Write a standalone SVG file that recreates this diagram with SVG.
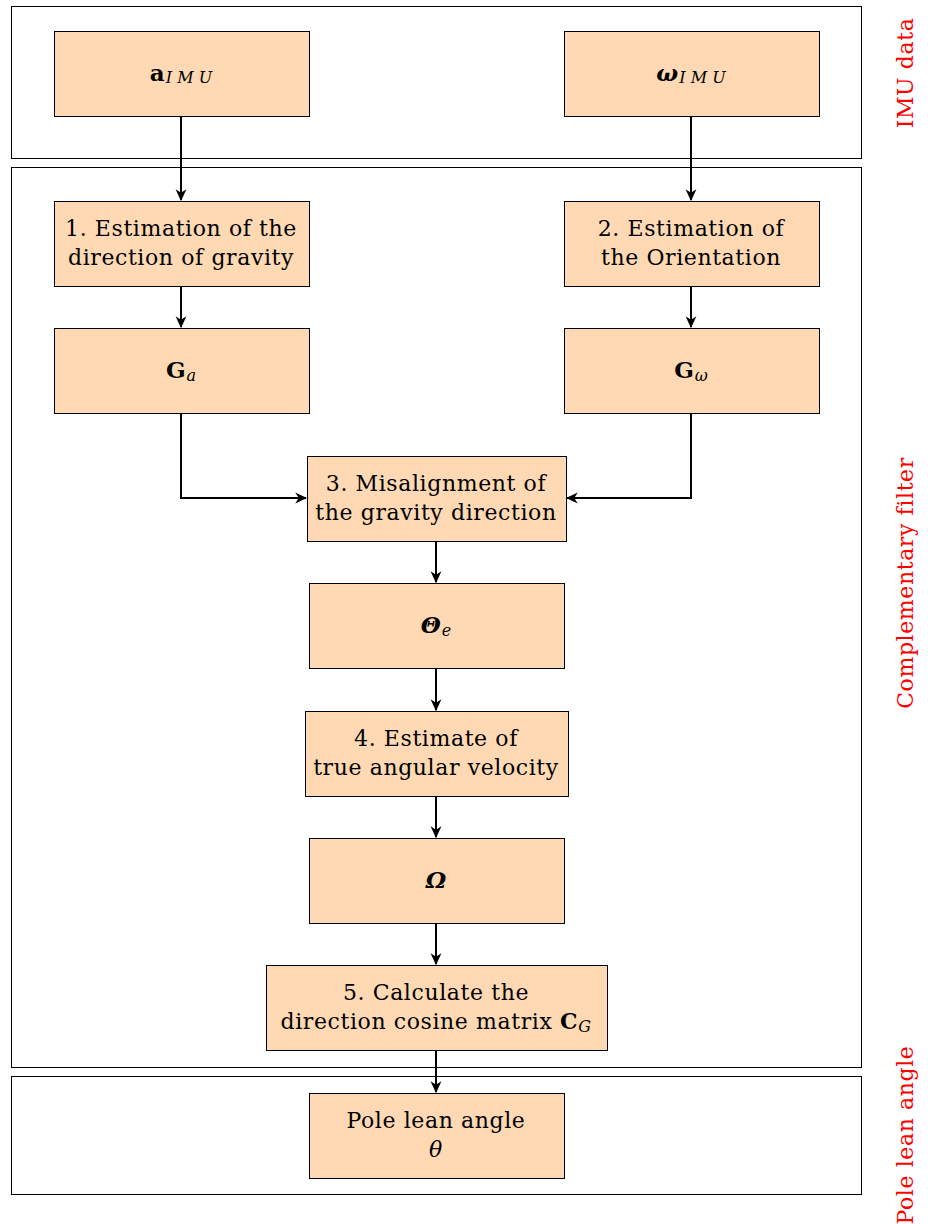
<svg xmlns="http://www.w3.org/2000/svg" width="928" height="1224" viewBox="0 0 928 1224">
<defs>
<style>
.frame{fill:none;stroke:#000;stroke-width:1}
.node{fill:#FFD9B3;stroke:#000;stroke-width:1}
.t{font-family:"DejaVu Serif","Liberation Serif",serif;font-size:22px;letter-spacing:0.6px;fill:#000;text-anchor:middle}
.m{font-family:"DejaVu Serif","Liberation Serif",serif;font-size:23px;fill:#000;text-anchor:middle}
.side{font-family:"DejaVu Serif","Liberation Serif",serif;font-size:22px;letter-spacing:0.6px;fill:#ff0000;text-anchor:middle}
.edge{fill:none;stroke:#000;stroke-width:2}
</style>
<marker id="arr" viewBox="0 0 10 10" refX="9" refY="5" markerWidth="12" markerHeight="12" markerUnits="userSpaceOnUse" orient="auto">
<path d="M0,0.5 L10,5 L0,9.5 L3,5 Z" fill="#000"/>
</marker>
</defs>
<g id="frames">
<rect class="frame" x="11.5" y="6.5" width="850" height="152"/>
<rect class="frame" x="11.5" y="167.5" width="850" height="900"/>
<rect class="frame" x="11.5" y="1076.5" width="850" height="118"/>
<text class="side" transform="translate(913,73) rotate(-90)">IMU data</text>
<text class="side" transform="translate(913,583) rotate(-90)">Complementary filter</text>
<text class="side" transform="translate(913,1135) rotate(-90)">Pole lean angle</text>
</g>
<g id="connectors">
<path class="edge" d="M181,116 V200" marker-end="url(#arr)"/>
<path class="edge" d="M691,116 V200" marker-end="url(#arr)"/>
<path class="edge" d="M181,286 V327" marker-end="url(#arr)"/>
<path class="edge" d="M691,286 V327" marker-end="url(#arr)"/>
<path class="edge" d="M181,413 V498 H306" marker-end="url(#arr)"/>
<path class="edge" d="M691,413 V498 H567" marker-end="url(#arr)"/>
<path class="edge" d="M436,541 V582" marker-end="url(#arr)"/>
<path class="edge" d="M436,668 V710" marker-end="url(#arr)"/>
<path class="edge" d="M436,796 V837" marker-end="url(#arr)"/>
<path class="edge" d="M436,923 V964" marker-end="url(#arr)"/>
<path class="edge" d="M436,1050 V1092" marker-end="url(#arr)"/>
</g>
<g id="n_aIMU">
<rect class="node" x="54.5" y="31.5" width="255" height="85"/>
<text class="m" x="181" y="81"><tspan font-weight="bold">a</tspan><tspan font-style="italic" font-size="16" dx="1" dy="2">I M U</tspan></text>
</g>
<g id="n_wIMU">
<rect class="node" x="564.5" y="31.5" width="255" height="85"/>
<text class="m" x="691" y="81"><tspan font-weight="bold" font-style="italic">ω</tspan><tspan font-style="italic" font-size="16" dx="1" dy="2">I M U</tspan></text>
</g>
<g id="n1">
<rect class="node" x="54.5" y="201.5" width="255" height="85"/>
<text class="t" x="181" y="236">1. Estimation of the</text>
<text class="t" x="181" y="265">direction of gravity</text>
</g>
<g id="n2">
<rect class="node" x="564.5" y="201.5" width="255" height="85"/>
<text class="t" x="691" y="236">2. Estimation of</text>
<text class="t" x="691" y="265">the Orientation</text>
</g>
<g id="n_Ga">
<rect class="node" x="54.5" y="328.5" width="255" height="85"/>
<text class="m" x="181" y="378"><tspan font-weight="bold">G</tspan><tspan font-style="italic" font-size="16" dx="1" dy="3">a</tspan></text>
</g>
<g id="n_Gw">
<rect class="node" x="564.5" y="328.5" width="255" height="85"/>
<text class="m" x="691" y="378"><tspan font-weight="bold">G</tspan><tspan font-style="italic" font-size="16" dx="1" dy="3">ω</tspan></text>
</g>
<g id="n3">
<rect class="node" x="307.5" y="456.5" width="259" height="85"/>
<text class="t" x="436" y="491">3. Misalignment of</text>
<text class="t" x="436" y="520">the gravity direction</text>
</g>
<g id="n_Theta">
<rect class="node" x="309.5" y="583.5" width="255" height="85"/>
<text class="m" x="436" y="633"><tspan font-weight="bold" font-style="italic">Θ</tspan><tspan font-style="italic" font-size="16" dx="1" dy="3">e</tspan></text>
</g>
<g id="n4">
<rect class="node" x="305.5" y="711.5" width="263" height="85"/>
<text class="t" x="436" y="746">4. Estimate of</text>
<text class="t" x="436" y="775">true angular velocity</text>
</g>
<g id="n_Omega">
<rect class="node" x="309.5" y="838.5" width="255" height="85"/>
<text class="m" x="436" y="888" font-weight="bold" font-style="italic">Ω</text>
</g>
<g id="n5">
<rect class="node" x="266.5" y="965.5" width="341" height="85"/>
<text class="t" x="436" y="1000">5. Calculate the</text>
<text class="t" x="436" y="1029">direction cosine matrix <tspan font-weight="bold">C</tspan><tspan font-style="italic" font-size="16" dy="3">G</tspan></text>
</g>
<g id="n_pole">
<rect class="node" x="309.5" y="1093.5" width="255" height="85"/>
<text class="t" x="436" y="1128">Pole lean angle</text>
<text class="t" x="436" y="1157" font-style="italic">θ</text>
</g>
</svg>
